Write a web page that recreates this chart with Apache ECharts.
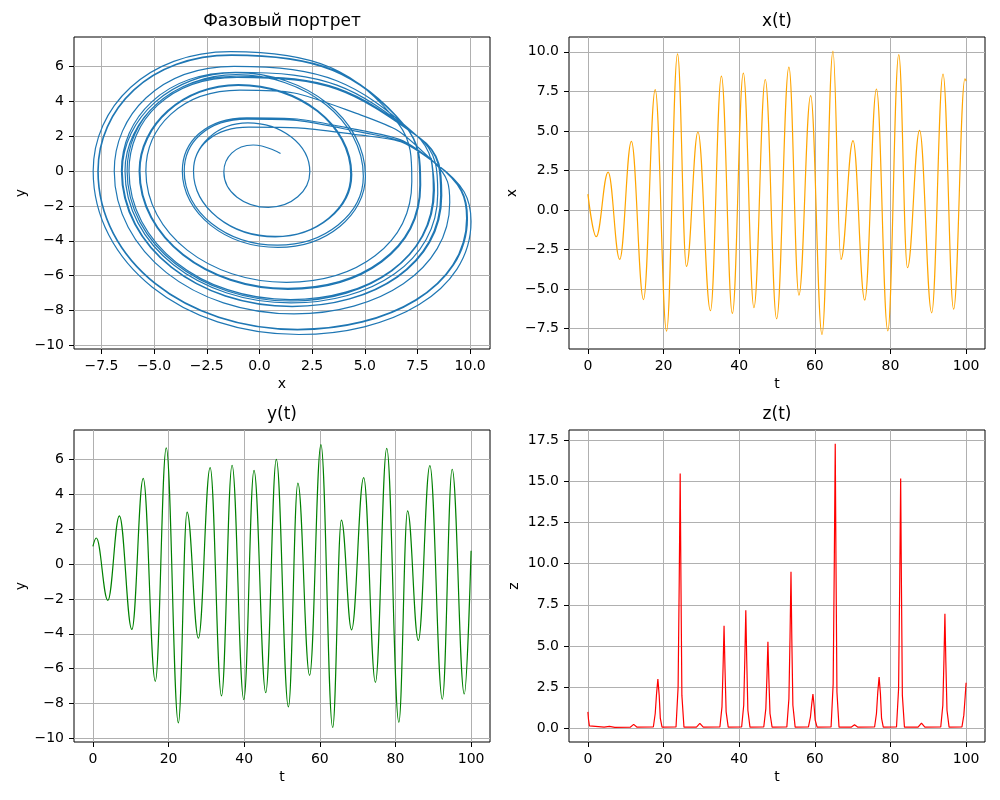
<!DOCTYPE html>
<html>
<head>
<meta charset="utf-8">
<title>Аттрактор Рёсслера</title>
<script src="https://cdn.jsdelivr.net/npm/echarts@6.0.0/dist/echarts.min.js"></script>
<style>
html, body { margin: 0; padding: 0; background: #fff; }
#main { width: 1000px; height: 800px; }
</style>
</head>
<body>
<div id="main"></div>
<script>
// x(t): экстремумы [t, x]
var xSeries = [
    [0, 1.0], [2.2, -1.69], [5.35, 2.39], [8.4, -3.13], [11.5, 4.33], [14.7, -5.67],
    [17.8, 7.61], [20.8, -7.67], [23.7, 9.87], [26.05, -3.57], [29.1, 4.93], [32.4, -6.38],
    [35.3, 8.46], [38.2, -6.55], [41.1, 8.65], [43.9, -6.19], [46.9, 8.25], [49.9, -6.89],
    [53.15, 9.03], [55.8, -5.39], [58.9, 7.23], [61.9, -7.89], [64.8, 10.04], [66.9, -3.13],
    [70.1, 4.38], [73.2, -5.71], [76.3, 7.65], [79.3, -7.65], [82.2, 9.83], [84.5, -3.66],
    [87.7, 5.03], [90.9, -6.51], [93.9, 8.6], [96.7, -6.28], [99.7, 8.3], [100, 8.15]
];
// y(t) [t, y]
var ySeries = [
    [0, 1.01], [0.9, 1.49], [3.95, -2.08], [7.0, 2.76], [10.3, -3.75], [13.3, 4.91],
    [16.5, -6.72], [19.4, 6.65], [22.6, -9.1], [24.9, 2.97], [27.9, -4.25], [31.0, 5.52],
    [34.0, -7.56], [36.8, 5.66], [39.9, -7.77], [42.6, 5.37], [45.7, -7.37], [48.5, 6.0],
    [51.7, -8.19], [54.2, 4.63], [57.3, -6.38], [60.3, 6.84], [63.4, -9.37], [65.7, 2.51],
    [68.4, -3.77], [71.6, 4.95], [74.7, -6.78], [77.7, 6.63], [80.9, -9.07], [83.2, 3.05],
    [86.05, -4.38], [89.1, 5.64], [92.4, -7.75], [95.0, 5.43], [98.2, -7.45], [100, 0.76]
];
// z(t) [t, z] - пики
var zSeries = [
    [0, 1.0], [0.15, 0.55], [0.4, 0.15], [0.9, 0.06], [4.3, 0.07], [5.7, 0.12], [7.1, 0.06],
    [11.2, 0.07], [12.1, 0.24], [13.0, 0.07],
    [17.3, 0.08], [17.8, 0.9], [18.15, 2.1], [18.5, 2.99], [18.85, 2.0], [19.15, 0.6], [19.6, 0.07],
    [23.3, 0.08], [23.85, 2.5], [24.15, 9.0], [24.4, 15.47], [24.6, 9.0], [24.85, 2.0], [25.4, 0.07],
    [28.7, 0.07], [29.6, 0.3], [30.5, 0.07],
    [34.9, 0.08], [35.45, 1.3], [35.75, 3.8], [36.0, 6.23], [36.25, 3.6], [36.55, 1.0], [37.1, 0.07],
    [40.65, 0.08], [41.2, 1.4], [41.5, 4.3], [41.75, 7.16], [42.0, 4.1], [42.3, 1.1], [42.85, 0.07],
    [46.5, 0.08], [47.05, 1.2], [47.35, 3.2], [47.6, 5.26], [47.85, 3.0], [48.15, 0.9], [48.7, 0.07],
    [52.6, 0.08], [53.15, 1.8], [53.45, 5.6], [53.7, 9.5], [53.92, 5.4], [54.2, 1.4], [54.8, 0.07],
    [58.3, 0.08], [58.85, 0.7], [59.2, 1.5], [59.5, 2.08], [59.8, 1.4], [60.1, 0.5], [60.6, 0.07],
    [64.3, 0.08], [64.85, 2.7], [65.15, 10.0], [65.4, 17.27], [65.6, 10.0], [65.85, 2.2], [66.4, 0.07],
    [69.6, 0.07], [70.5, 0.22], [71.4, 0.07],
    [75.8, 0.08], [76.3, 0.9], [76.65, 2.2], [77.0, 3.11], [77.35, 2.1], [77.65, 0.6], [78.1, 0.07],
    [81.6, 0.08], [82.15, 2.4], [82.45, 8.8], [82.7, 15.17], [82.9, 8.8], [83.15, 2.0], [83.7, 0.07],
    [87.3, 0.07], [88.2, 0.32], [89.1, 0.07],
    [93.3, 0.08], [93.85, 1.4], [94.15, 4.2], [94.4, 6.96], [94.65, 4.0], [94.95, 1.1], [95.5, 0.07],
    [98.9, 0.08], [99.4, 0.8], [99.75, 1.9], [100, 2.77]
];
// фазовый портрет [x, y], точки по ходу траектории
var phaseXY = [
    [1.0, 1.0], [-0.3, 1.49], [-1.69, -0.05], [0.42, -2.08], [2.39, -0.05],
    [-0.55, 2.76], [-3.13, 0], [0.75, -3.75], [4.33, -0.2],
    [-1.0, 4.91], [-5.67, 0], [1.35, -6.72], [7.61, -0.8], [6.9, 2.6],
    [-1.33, 6.65], [-7.67, 0], [1.8, -9.1], [9.87, -2.7], [8.4, 0.4], [4.5, 2.3],
    [-0.6, 2.97], [-3.57, 0], [0.85, -4.25], [4.93, -0.3],
    [-1.1, 5.52], [-6.38, 0], [1.5, -7.56], [8.46, -1.3], [7.5, 2.0],
    [-1.13, 5.66], [-6.55, 0], [1.55, -7.77], [8.65, -1.4], [7.6, 1.9],
    [-1.07, 5.37], [-6.19, 0], [1.47, -7.37], [8.25, -1.1], [7.4, 2.1],
    [-1.2, 6.0], [-6.89, 0], [1.64, -8.19], [9.03, -1.8], [8.2, 0.6], [4.6, 3.3],
    [-0.93, 4.63], [-5.39, 0], [1.28, -6.38], [7.23, -0.6], [6.6, 2.7],
    [-1.37, 6.84], [-7.89, 0], [1.87, -9.37], [10.04, -2.9], [8.4, 0.4], [4.5, 2.1],
    [-0.5, 2.51], [-3.13, 0], [0.75, -3.77], [4.38, -0.2],
    [-1.0, 4.95], [-5.71, 0], [1.36, -6.78], [7.65, -0.8], [6.9, 2.6],
    [-1.33, 6.63], [-7.65, 0], [1.81, -9.07], [9.83, -2.7], [8.4, 0.4], [4.5, 2.4],
    [-0.6, 3.05], [-3.66, 0], [0.88, -4.38], [5.03, -0.3],
    [-1.13, 5.64], [-6.51, 0], [1.55, -7.75], [8.6, -1.4], [7.6, 1.9],
    [-1.09, 5.43], [-6.28, 0], [1.49, -7.45], [8.3, -1.1], [8.15, 0.76]
];
// деления осей
var tTicks = [0, 20, 40, 60, 80, 100];
var xTicks = [-7.5, -5, -2.5, 0, 2.5, 5, 7.5, 10];
var yTicks = [-10, -8, -6, -4, -2, 0, 2, 4, 6];
var zTicks = [0, 2.5, 5, 7.5, 10, 12.5, 15, 17.5];

var FONT = 'DejaVu Sans';

function fmt(digits) {
    return function (v) {
        return v.toFixed(digits).replace('-', '\u2212');
    };
}

function makeAxis(grid, min, max, ticks, digits, name, gap) {
    return {
        type: 'value',
        gridIndex: grid,
        min: min,
        max: max,
        name: name,
        nameLocation: 'middle',
        nameGap: gap,
        nameTextStyle: { color: '#000', fontSize: 14, fontFamily: FONT },
        axisLine: { show: false, onZero: false },
        axisTick: {
            show: true,
            customValues: ticks,
            length: 5,
            lineStyle: { color: '#000', width: 1 }
        },
        axisLabel: {
            customValues: ticks,
            formatter: fmt(digits),
            margin: 10,
            color: '#000',
            fontSize: 14,
            fontFamily: FONT
        },
        splitLine: { show: true, lineStyle: { color: '#b0b0b0', width: 1 } }
    };
}

function makeGrid(left, top) {
    return {
        left: left, top: top, width: 416, height: 312,
        show: true, borderColor: '#000', borderWidth: 1,
        backgroundColor: 'transparent'
    };
}

function makeTitle(text, cx, top) {
    return {
        text: text, left: cx, top: top, textAlign: 'center', padding: 0,
        textStyle: { color: '#000', fontSize: 17, fontWeight: 'normal', fontFamily: FONT }
    };
}

var chart = echarts.init(document.getElementById('main'), null, { renderer: 'canvas' });
var option = {
    animation: false,
    backgroundColor: '#fff',
    title: [
        makeTitle('Фазовый портрет', 282, 13),
        makeTitle('x(t)', 777, 13),
        makeTitle('y(t)', 282, 406),
        makeTitle('z(t)', 777, 406)
    ],
    grid: [makeGrid(74, 37), makeGrid(569, 37), makeGrid(74, 430), makeGrid(569, 430)],
    xAxis: [
        makeAxis(0, -8.8, 10.94, xTicks, 1, 'x', 28),
        makeAxis(1, -5, 105, tTicks, 0, 't', 28),
        makeAxis(2, -5, 105, tTicks, 0, 't', 28),
        makeAxis(3, -5, 105, tTicks, 0, 't', 28)
    ],
    yAxis: [
        makeAxis(0, -10.2, 7.68, yTicks, 0, 'y', 46),
        makeAxis(1, -8.8, 10.94, xTicks, 1, 'x', 50),
        makeAxis(2, -10.2, 7.68, yTicks, 0, 'y', 46),
        makeAxis(3, -0.83, 18.11, zTicks, 1, 'z', 48)
    ],
    series: [
        {
            type: 'line', xAxisIndex: 0, yAxisIndex: 0,
            data: phaseXY, smooth: 0.55, symbol: 'none',
            lineStyle: { color: '#1f77b4', width: 1.2 }
        },
        {
            type: 'line', xAxisIndex: 1, yAxisIndex: 1,
            data: xSeries, smooth: 0.4, smoothMonotone: 'x', symbol: 'none',
            lineStyle: { color: '#ffa500', width: 1.2 }
        },
        {
            type: 'line', xAxisIndex: 2, yAxisIndex: 2,
            data: ySeries, smooth: 0.4, smoothMonotone: 'x', symbol: 'none',
            lineStyle: { color: '#008000', width: 1.2 }
        },
        {
            type: 'line', xAxisIndex: 3, yAxisIndex: 3,
            data: zSeries, symbol: 'none',
            lineStyle: { color: '#ff0000', width: 1.2 }
        }
    ]
};
chart.setOption(option);
</script>
</body>
</html>
